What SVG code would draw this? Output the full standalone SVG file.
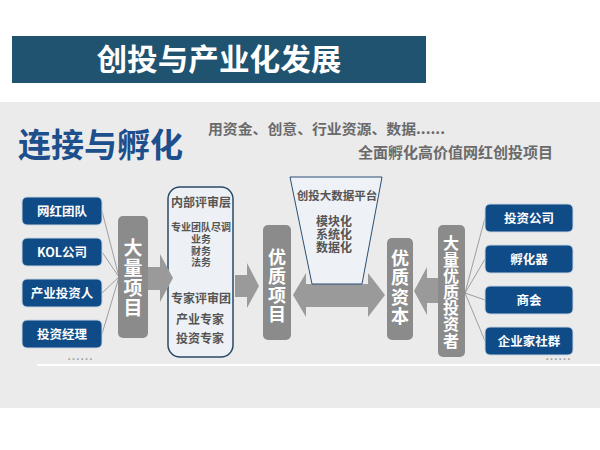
<svg xmlns="http://www.w3.org/2000/svg" width="600" height="450" viewBox="0 0 600 450">
<style>
  text { font-family: "Noto Sans CJK SC", "Noto Sans", sans-serif; font-weight: 700; }
  .blue { fill: #0f4b86; stroke: #c9d5e2; stroke-width: 1; }
  .btxt { fill: #ffffff; font-size: 12.5px; text-anchor: middle; }
  .gbox { fill: #8b8b8b; }
  .vtxt { fill: #ffffff; text-anchor: middle; writing-mode: vertical-rl; text-orientation: upright; }
  .arrow { fill: #9a9a9a; }
  .conn { stroke: #8a8a8a; stroke-width: 0.8; fill: none; }
  .dark { fill: #555555; text-anchor: middle; }
  .dots { fill: #9a9a9a; font-size: 13px; font-weight: 400; }
</style>
<rect x="0" y="0" width="600" height="450" fill="#ffffff"/>
<rect x="0" y="102" width="600" height="306" fill="#ebebeb"/>
<line x1="37" y1="365" x2="600" y2="365" stroke="#ffffff" stroke-width="2"/>

<g id="title">
  <rect x="12" y="36" width="414" height="47" fill="#1f5370"/>
  <text x="219" y="70" fill="#ffffff" font-size="30" text-anchor="middle" textLength="245" lengthAdjust="spacingAndGlyphs">创投与产业化发展</text>
</g>

<g id="heading">
  <text x="18" y="157" fill="#1c4f8c" font-size="33" font-weight="900" textLength="165" lengthAdjust="spacingAndGlyphs">连接与孵化</text>
  <text x="208" y="134" fill="#6a6a6a" font-size="14" textLength="237" lengthAdjust="spacingAndGlyphs">用资金、创意、行业资源、数据......</text>
  <text x="553" y="158" fill="#6a6a6a" font-size="15" text-anchor="end">全面孵化高价值网红创投项目</text>
</g>

<g id="connectors">
  <line class="conn" x1="102" y1="211" x2="119" y2="277"/>
  <line class="conn" x1="102" y1="252" x2="119" y2="277"/>
  <line class="conn" x1="102" y1="293" x2="119" y2="277"/>
  <line class="conn" x1="102" y1="334" x2="119" y2="277"/>
  <line class="conn" x1="465" y1="293" x2="485" y2="218"/>
  <line class="conn" x1="465" y1="293" x2="485" y2="259"/>
  <line class="conn" x1="465" y1="293" x2="485" y2="300"/>
  <line class="conn" x1="465" y1="293" x2="485" y2="341"/>
</g>

<g id="left-sources">
  <g id="n-wanghong"><rect class="blue" x="22" y="197" width="80" height="28" rx="5"/><text class="btxt" x="62" y="216">网红团队</text></g>
  <g id="n-kol"><rect class="blue" x="22" y="238" width="80" height="28" rx="5"/><text class="btxt" x="62" y="257">KOL公司</text></g>
  <g id="n-chanye"><rect class="blue" x="22" y="279" width="80" height="28" rx="5"/><text class="btxt" x="62" y="298">产业投资人</text></g>
  <g id="n-jingli"><rect class="blue" x="22" y="320" width="80" height="28" rx="5"/><text class="btxt" x="62" y="339">投资经理</text></g>
  <text class="dots" x="67" y="364">……</text>
</g>

<g id="n-daliang">
  <rect class="gbox" x="118" y="216" width="30" height="122" rx="5"/>
  <text class="vtxt" x="133" y="278" font-size="19" letter-spacing="1">大量项目</text>
</g>

<g id="n-review">
  <rect x="168" y="187" width="65" height="170" rx="12" fill="#edf1f5" stroke="#2a4a68" stroke-width="1.5"/>
  <text class="dark" x="201" y="207" font-size="12">内部评审层</text>
  <text class="dark" x="201" y="231" font-size="10">专业团队尽调</text>
  <text class="dark" x="201" y="243" font-size="10">业务</text>
  <text class="dark" x="201" y="255" font-size="10">财务</text>
  <text class="dark" x="201" y="266" font-size="10">法务</text>
  <text class="dark" x="201" y="303" font-size="12">专家评审团</text>
  <text class="dark" x="200" y="324" font-size="12">产业专家</text>
  <text class="dark" x="200" y="343" font-size="12">投资专家</text>
</g>

<g id="arrows">
  <polygon class="arrow" points="148,267 160,267 160,254 173,278 160,302 160,290 148,290"/>
  <polygon class="arrow" points="235,275 247,275 247,263 259,286 247,308 247,297 235,297"/>
  <polygon class="arrow" points="293,295 306,273 306,284 368,284 368,273 385,295 368,317 368,307 306,307 306,317"/>
  <polygon class="arrow" points="414,291 427,267 427,278 438,278 438,303 427,303 427,315"/>
</g>

<g id="n-platform">
  <polygon points="290,177 382,177 362,284 312,284" fill="#eef1f5" stroke="#2a4f75" stroke-width="1"/>
  <text class="dark" x="337" y="200" font-size="11.5">创投大数据平台</text>
  <text class="dark" x="334" y="226" font-size="12">模块化</text>
  <text class="dark" x="334" y="239" font-size="12">系统化</text>
  <text class="dark" x="334" y="252" font-size="12">数据化</text>
</g>

<g id="n-youzhi-xiangmu">
  <rect class="gbox" x="263" y="225" width="28" height="115" rx="5"/>
  <text class="vtxt" x="277" y="286" font-size="18" letter-spacing="1">优质项目</text>
</g>

<g id="n-youzhi-ziben">
  <rect class="gbox" x="387" y="238" width="26" height="102" rx="5"/>
  <text class="vtxt" x="400" y="288" font-size="18" letter-spacing="1.5">优质资本</text>
</g>

<g id="n-touzizhe">
  <rect class="gbox" x="438" y="225" width="27" height="132" rx="5"/>
  <text class="vtxt" x="451" y="292" font-size="16" letter-spacing="0.2">大量优质投资者</text>
</g>

<g id="right-investors">
  <g id="n-touzi"><rect class="blue" x="485" y="204" width="88" height="28" rx="5"/><text class="btxt" x="529" y="223">投资公司</text></g>
  <g id="n-fuhuaqi"><rect class="blue" x="485" y="245" width="88" height="28" rx="5"/><text class="btxt" x="529" y="264">孵化器</text></g>
  <g id="n-shanghui"><rect class="blue" x="485" y="286" width="88" height="28" rx="5"/><text class="btxt" x="529" y="305">商会</text></g>
  <g id="n-qiyejia"><rect class="blue" x="485" y="327" width="88" height="28" rx="5"/><text class="btxt" x="529" y="346">企业家社群</text></g>
  <text class="dots" x="545" y="364">……</text>
</g>
</svg>
